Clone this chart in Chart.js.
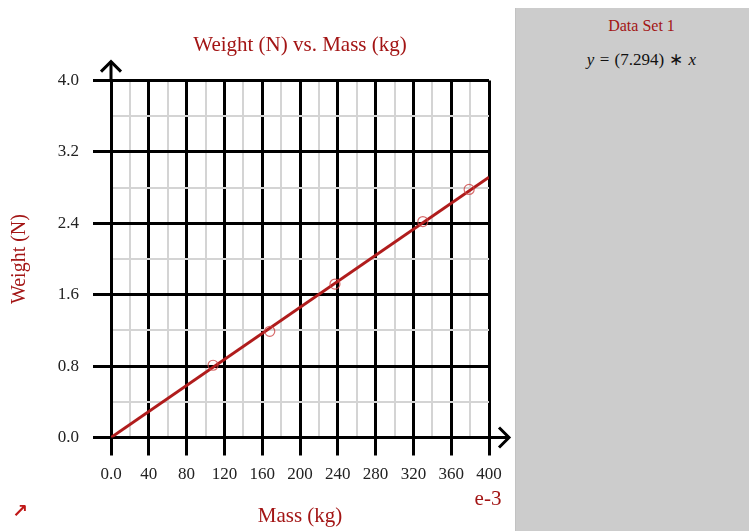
<!DOCTYPE html>
<html lang="en">
<head>
    <meta charset="UTF-8">
    <title>Weight (N) vs. Mass (kg)</title>
    <script src="https://cdn.jsdelivr.net/npm/chart.js"></script>
    <style>
        body, html {
            margin: 0;
            padding: 0;
            background: #fff;
        }
        #wrap {
            position: relative;
            width: 749px;
            height: 531px;
            overflow: hidden;
        }
        #chartBox {
            position: absolute;
            left: 0;
            top: 0;
            width: 515px;
            height: 531px;
        }
        #side {
            position: absolute;
            left: 515px;
            top: 8px;
            width: 234px;
            height: 523px;
            background: #cccccc;
            border-left: 1px solid #c2c2c2;
            box-sizing: border-box;
            padding-left: 18px;
            text-align: center;
            font-family: "Liberation Serif", serif;
        }
        #setName {
            color: #a31515;
            font-size: 16px;
            margin-top: 9px;
        }
        #formula {
            color: #111;
            font-size: 17px;
            margin-top: 14px;
            word-spacing: 1px;
        }
        #formula i { font-style: italic; }
        #corner {
            position: absolute;
            left: 12px;
            top: 499px;
            color: #c01818;
            font-size: 19px;
            font-weight: bold;
            font-family: "DejaVu Sans", sans-serif;
        }
    </style>
</head>
<body>
<div id="wrap">
    <div id="chartBox"><canvas id="chart"></canvas></div>
    <div id="side">
        <div id="setName">Data Set 1</div>
        <div id="formula"><i>y</i> = (7.294) &lowast; <i>x</i></div>
    </div>
    <div id="corner">&#8599;</div>
</div>

<script>
    // mass in units of 1e-3 kg, weight in N
    const massValues = [108, 168, 237, 330, 379];
    const weightValues = [0.81, 1.19, 1.72, 2.42, 2.78];

    // fitted line y = 7.294 * x, end points
    const fitMass = [0, 400];
    const fitWeight = [0, 2.918];

    const xTickLabels = ['0.0', '40', '80', '120', '160', '200', '240', '280', '320', '360', '400'];
    const yTickLabels = ['0.0', '0.8', '1.6', '2.4', '3.2', '4.0'];

    const chartTitle = 'Weight (N) vs. Mass (kg)';
    const red = '#a31515';
    const serif = '"Liberation Serif", "Times New Roman", serif';

    const points = massValues.map((m, i) => ({ x: m, y: weightValues[i] }));
    const fitLine = fitMass.map((m, i) => ({ x: m, y: fitWeight[i] }));

    const isMajorX = v => Math.round(v) % 40 === 0;
    const isMajorY = v => Math.round(v / 0.4) % 2 === 0;

    // title over the plot area, arrows at the end of the axes, exponent label
    const axisExtras = {
        id: 'axisExtras',
        afterDraw(chart) {
            const c = chart.ctx;
            const a = chart.chartArea;
            c.save();
            c.fillStyle = red;
            c.font = '21px ' + serif;
            c.textAlign = 'center';
            c.textBaseline = 'middle';
            c.fillText(chartTitle, (a.left + a.right) / 2, 45);

            c.strokeStyle = '#000';
            c.lineWidth = 3;
            c.lineCap = 'butt';
            // y axis arrow
            c.beginPath();
            c.moveTo(a.left, a.top);
            c.lineTo(a.left, a.top - 19);
            c.stroke();
            c.beginPath();
            c.moveTo(a.left - 10, a.top - 9);
            c.lineTo(a.left, a.top - 19);
            c.lineTo(a.left + 10, a.top - 9);
            c.stroke();
            // x axis arrow
            c.beginPath();
            c.moveTo(a.right, a.bottom);
            c.lineTo(a.right + 20, a.bottom);
            c.stroke();
            c.beginPath();
            c.moveTo(a.right + 10, a.bottom - 10);
            c.lineTo(a.right + 20, a.bottom);
            c.lineTo(a.right + 10, a.bottom + 10);
            c.stroke();
            // exponent
            c.fillStyle = red;
            c.font = '21px ' + serif;
            c.fillText('e-3', a.right - 1, a.bottom + 62);
            c.restore();
        }
    };

    new Chart(document.getElementById('chart'), {
        type: 'scatter',
        data: {
            datasets: [{
                label: 'Data Set 1',
                data: points,
                showLine: false,
                pointRadius: 5,
                pointHoverRadius: 5,
                pointBorderWidth: 1.2,
                borderColor: 'rgba(205, 70, 70, 0.8)',
                backgroundColor: 'rgba(0,0,0,0)'
            }, {
                label: 'fit',
                data: fitLine,
                showLine: true,
                pointRadius: 0,
                borderColor: '#b01c1c',
                borderWidth: 3
            }]
        },
        options: {
            responsive: true,
            maintainAspectRatio: false,
            animation: false,
            layout: { padding: { left: 0, right: 26, top: 80.6, bottom: 0 } },
            plugins: {
                legend: { display: false },
                tooltip: { enabled: false },
                title: { display: false }
            },
            scales: {
                x: {
                    type: 'linear',
                    min: 0,
                    max: 400,
                    afterFit: s => { s.height = 93.5; },
                    ticks: {
                        stepSize: 20,
                        autoSkip: false,
                        maxRotation: 0,
                        padding: 9,
                        color: '#222',
                        font: { family: serif, size: 17 },
                        callback: (v) => isMajorX(v) ? xTickLabels[Math.round(v / 40)] : ''
                    },
                    grid: {
                        color: ctx => isMajorX(ctx.tick.value) ? '#000' : '#d4d4d4',
                        lineWidth: ctx => isMajorX(ctx.tick.value) ? 3 : 2,
                        tickLength: 18,
                        tickColor: ctx => isMajorX(ctx.tick.value) ? '#000' : 'rgba(0,0,0,0)',
                        tickWidth: 3
                    },
                    border: { color: '#000', width: 3 },
                    title: {
                        display: true,
                        text: 'Mass (kg)',
                        color: red,
                        font: { family: serif, size: 21, lineHeight: 1.2 },
                        padding: { top: 0, bottom: 2 }
                    }
                },
                y: {
                    type: 'linear',
                    min: 0,
                    max: 4,
                    afterFit: s => { s.width = 111; },
                    ticks: {
                        stepSize: 0.4,
                        autoSkip: false,
                        padding: 14,
                        color: '#222',
                        font: { family: serif, size: 17 },
                        callback: (v) => isMajorY(v) ? yTickLabels[Math.round(v / 0.8)] : ''
                    },
                    grid: {
                        color: ctx => isMajorY(ctx.tick.value) ? '#000' : '#d4d4d4',
                        lineWidth: ctx => isMajorY(ctx.tick.value) ? 3 : 2,
                        tickLength: 18,
                        tickColor: ctx => isMajorY(ctx.tick.value) ? '#000' : 'rgba(0,0,0,0)',
                        tickWidth: 3
                    },
                    border: { color: '#000', width: 3 },
                    title: {
                        display: true,
                        text: 'Weight (N)',
                        color: red,
                        font: { family: serif, size: 20, lineHeight: 1.2 },
                        padding: { top: 8, bottom: 0 }
                    }
                }
            }
        },
        plugins: [axisExtras]
    });
</script>
</body>
</html>
